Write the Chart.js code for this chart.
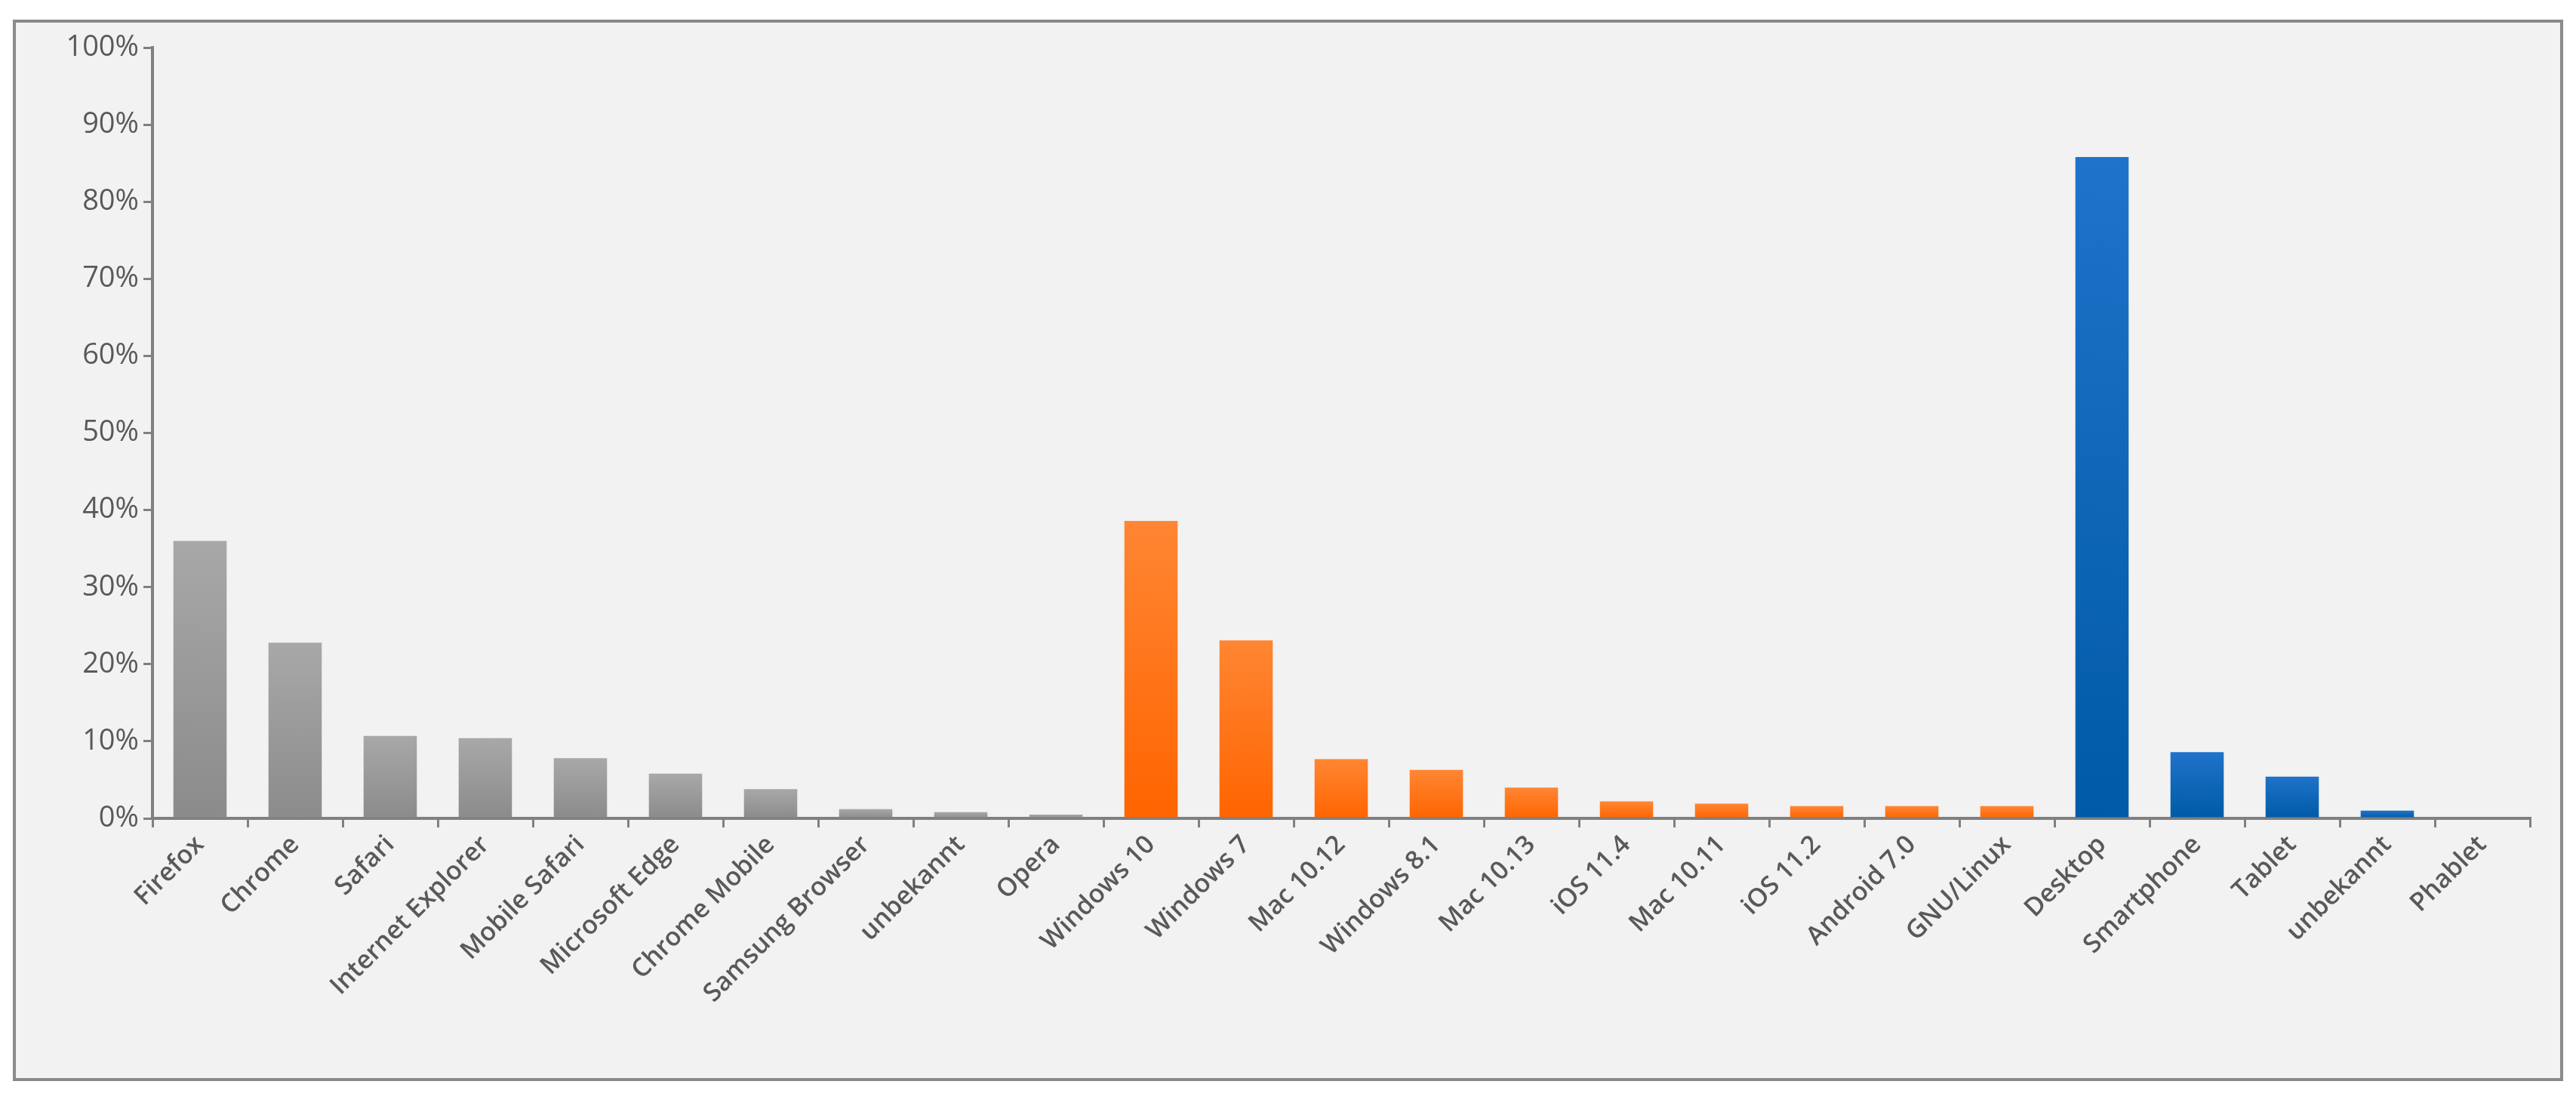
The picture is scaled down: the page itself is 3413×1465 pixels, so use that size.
<!DOCTYPE html>
<html>
<head>
<meta charset="utf-8">
<script src="https://cdn.jsdelivr.net/npm/chart.js@4"></script>
<style>
    body { margin: 0; background: #fff; }
    #box {
        position: absolute; left: 17px; top: 26px;
        width: 3371px; height: 1398px;
        border: 4px solid #8a8a8a; background: #f2f2f2;
    }
</style>
</head>
<body>
<div id="box"><canvas id="chart"></canvas></div>
<script>
// browsers, operating systems, device types
const browserLabels = ['Firefox', 'Chrome', 'Safari', 'Internet Explorer', 'Mobile Safari', 'Microsoft Edge', 'Chrome Mobile', 'Samsung Browser', 'unbekannt', 'Opera'];
const browserValues = [36.0, 22.8, 10.7, 10.4, 7.8, 5.8, 3.8, 1.2, 0.8, 0.5];
const osLabels = ['Windows 10', 'Windows 7', 'Mac 10.12', 'Windows 8.1', 'Mac 10.13', 'iOS 11.4', 'Mac 10.11', 'iOS 11.2', 'Android 7.0', 'GNU/Linux'];
const osValues = [38.6, 23.1, 7.7, 6.3, 4.0, 2.2, 1.9, 1.6, 1.6, 1.6];
const deviceLabels = ['Desktop', 'Smartphone', 'Tablet', 'unbekannt', 'Phablet'];
const deviceValues = [85.8, 8.6, 5.4, 1.0, 0.0];
const yTicks = [0, 10, 20, 30, 40, 50, 60, 70, 80, 90, 100];

const labels = browserLabels.concat(osLabels, deviceLabels);
const values = browserValues.concat(osValues, deviceValues);
const groupOf = labels.map((l, i) => i < browserLabels.length ? 0 : (i < browserLabels.length + osLabels.length ? 1 : 2));

const groupColors = [
    ['#a8a8a8', '#8b8b8b'],
    ['#ff8633', '#ff6400'],
    ['#1f73ca', '#005aa6']
];

function barColor(ctx) {
    const chart = ctx.chart;
    const area = chart.chartArea;
    const c = groupColors[groupOf[ctx.dataIndex]];
    if (!area || !chart.scales.y) return c[1];
    let top = chart.scales.y.getPixelForValue(values[ctx.dataIndex]);
    if (!isFinite(top) || !isFinite(area.bottom)) return c[1];
    top = Math.min(top, area.bottom - 1);
    const g = chart.ctx.createLinearGradient(0, top, 0, area.bottom);
    g.addColorStop(0, c[0]);
    g.addColorStop(1, c[1]);
    return g;
}

new Chart(document.getElementById('chart'), {
    type: 'bar',
    data: {
        labels: labels,
        datasets: [{
            data: values,
            backgroundColor: barColor,
            barPercentage: 0.56,
            categoryPercentage: 1
        }]
    },
    options: {
        responsive: true,
        maintainAspectRatio: false,
        animation: false,
        devicePixelRatio: 1,
        layout: { padding: { left: 0, top: 33, right: 40, bottom: 0 } },
        plugins: { legend: { display: false }, tooltip: { enabled: false } },
        scales: {
            x: {
                offset: true,
                grid: { display: true, drawOnChartArea: false, offset: true, tickLength: 12, color: '#808080', lineWidth: 3 },
                border: { color: '#808080', width: 4 },
                ticks: {
                    color: '#595959', maxRotation: 45, minRotation: 45, autoSkip: false,
                    font: { family: 'Open Sans', size: 34, weight: '600' }
                },
                afterFit: s => { s.height = 344; }
            },
            y: {
                min: 0, max: 100,
                afterBuildTicks: s => { s.ticks = yTicks.map(v => ({ value: v })); },
                grid: { display: true, drawOnChartArea: false, tickLength: 12, color: '#808080', lineWidth: 3 },
                border: { color: '#808080', width: 4 },
                ticks: {
                    color: '#595959', padding: 6,
                    font: { family: 'Open Sans', size: 38 },
                    callback: v => v + '%'
                },
                afterFit: s => { s.width = 181; }
            }
        }
    }
});
</script>
</body>
</html>
